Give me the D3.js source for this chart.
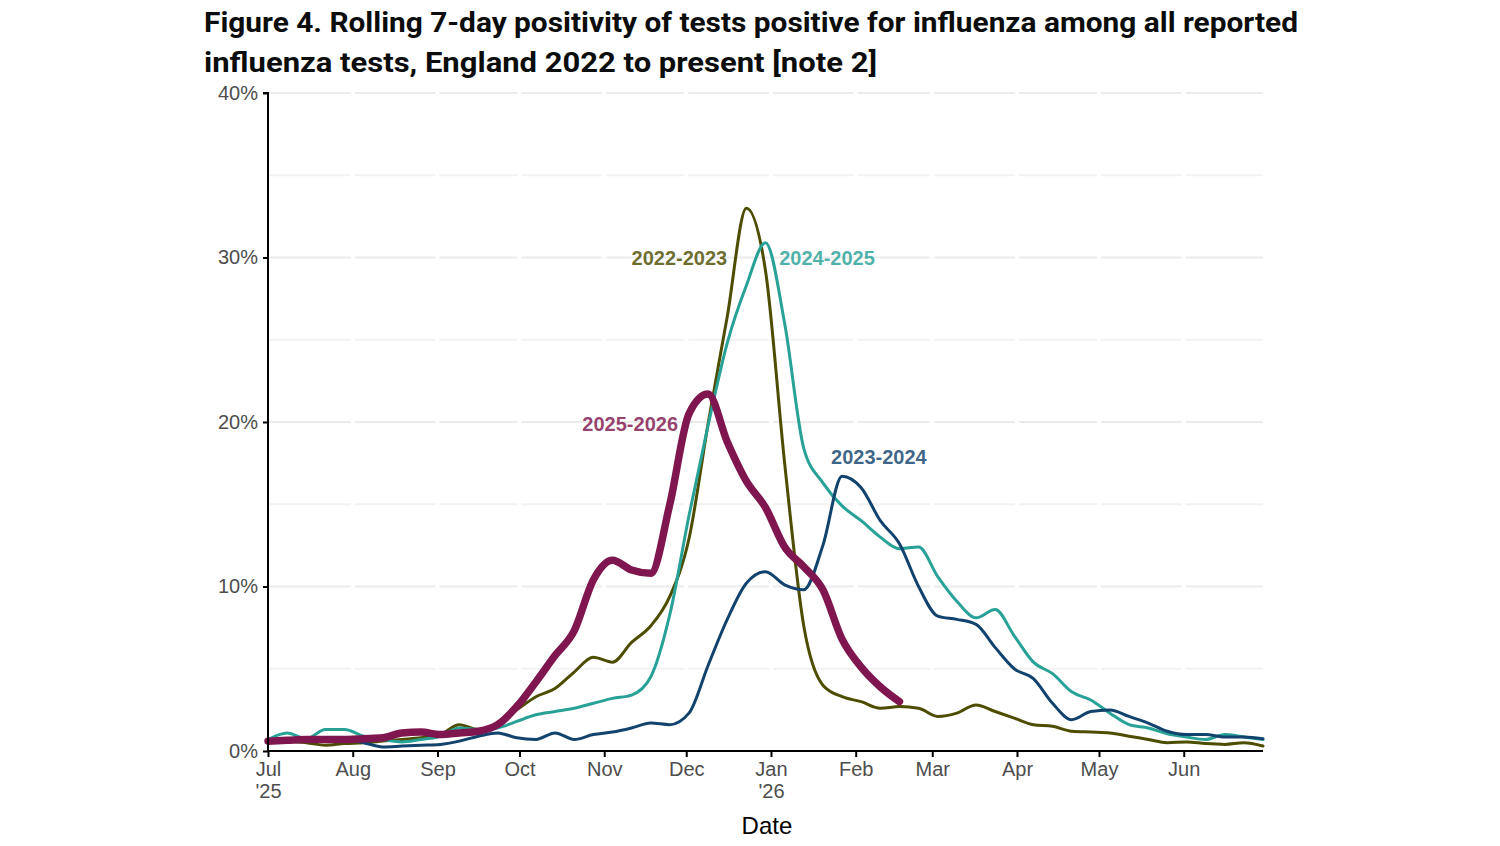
<!DOCTYPE html>
<html>
<head>
<meta charset="utf-8">
<script src="https://cdn.jsdelivr.net/npm/d3@7"></script>
<style>
  body { margin: 0; background: #fff; }
  svg { display: block; }
</style>
</head>
<body>
<script>
// weekly sample dates, aligned to a Jul 2025 - Jun 2026 season axis
const weekDates = [
  '2025-07-01','2025-07-08','2025-07-15','2025-07-22','2025-07-29',
  '2025-08-05','2025-08-12','2025-08-19','2025-08-26',
  '2025-09-02','2025-09-09','2025-09-16','2025-09-23','2025-09-30',
  '2025-10-07','2025-10-14','2025-10-21','2025-10-28',
  '2025-11-04','2025-11-11','2025-11-18','2025-11-25',
  '2025-12-02','2025-12-09','2025-12-16','2025-12-23','2025-12-30',
  '2026-01-06','2026-01-13','2026-01-20','2026-01-27',
  '2026-02-03','2026-02-10','2026-02-17','2026-02-24',
  '2026-03-03','2026-03-10','2026-03-17','2026-03-24','2026-03-31',
  '2026-04-07','2026-04-14','2026-04-21','2026-04-28',
  '2026-05-05','2026-05-12','2026-05-19','2026-05-26',
  '2026-06-02','2026-06-09','2026-06-16','2026-06-23','2026-06-30'
];

// positivity (%) per season
const season2223 = [0.5,0.6,0.5,0.35,0.45,0.5,0.6,0.7,0.8,1.0,1.6,1.3,1.7,2.5,3.3,3.8,4.8,5.7,5.4,6.6,
  7.6,9.4,12.9,19.9,26.4,33.0,29.2,17.5,7.6,4.0,3.3,3.0,2.6,2.7,2.6,2.1,2.3,2.8,2.4,2.0,
  1.6,1.5,1.2,1.15,1.1,0.9,0.7,0.5,0.55,0.45,0.4,0.5,0.3];
const season2324 = [0.6,0.65,0.7,0.7,0.7,0.5,0.25,0.3,0.35,0.4,0.6,0.9,1.1,0.8,0.7,1.1,0.7,1.0,1.15,1.4,
  1.7,1.6,2.3,5.2,8.0,10.2,10.9,10.1,9.8,12.5,16.7,16.0,14.0,12.6,10.0,8.2,8.0,7.7,6.3,5.0,
  4.4,2.9,1.9,2.4,2.5,2.1,1.7,1.2,1.0,1.0,0.85,0.85,0.75];
const season2425 = [0.7,1.1,0.75,1.3,1.3,0.9,0.7,0.55,0.7,0.9,1.4,1.3,1.4,1.8,2.2,2.4,2.6,2.9,3.2,3.4,
  4.5,8.3,14.3,19.8,24.8,28.3,30.9,26.0,18.4,16.3,14.9,14.0,13.0,12.3,12.4,10.6,9.1,8.1,8.6,7.0,
  5.4,4.7,3.6,3.1,2.3,1.6,1.4,1.05,0.85,0.7,1.0,0.85,0.7];
const season2526 = [0.6,0.65,0.7,0.7,0.7,0.75,0.8,1.1,1.15,1.0,1.1,1.2,1.6,2.7,4.2,5.8,7.3,10.4,11.6,11.0,
  10.8,15.0,20.5,21.7,18.8,16.4,14.8,12.4,11.2,9.8,6.8,5.1,3.9,3.0];

const seasonNames = ['2022-2023', '2023-2024', '2024-2025', '2025-2026'];
const seasonValues = [season2223, season2324, season2425, season2526];
const seasonColors = ['#4d4d00', '#12436d', '#28a197', '#801650'];
const seasonWidths = [3, 3, 3, 7.5];

// where each season's name sits: [date, value, anchor]
const labelSpots = [
  ['2025-12-16', 30, 'end'],
  ['2026-01-23', 17.9, 'start'],
  ['2026-01-04', 30, 'start'],
  ['2025-11-28', 19.9, 'end']
];

const yTicks = [0, 10, 20, 30, 40];
const yGrid = [0, 5, 10, 15, 20, 25, 30, 35, 40];
const monthTicks = ['2025-07-01','2025-08-01','2025-09-01','2025-10-01','2025-11-01','2025-12-01',
  '2026-01-01','2026-02-01','2026-03-01','2026-04-01','2026-05-01','2026-06-01'];
const yearLabels = { '2025-07-01': "'25", '2026-01-01': "'26" };

const titleLines = [
  'Figure 4. Rolling 7-day positivity of tests positive for influenza among all reported',
  'influenza tests, England 2022 to present [note 2]'
];

const W = 1500, H = 846;
const margin = { left: 268, right: 237, top: 93, bottom: 95 };
const parse = d3.timeParse('%Y-%m-%d');

const svg = d3.select('body').append('svg')
  .attr('width', W)
  .attr('height', H);

const x = d3.scaleTime()
  .domain([parse('2025-07-01'), parse('2026-06-30')])
  .range([margin.left, W - margin.right]);

const y = d3.scaleLinear()
  .domain([0, 40])
  .range([H - margin.bottom, margin.top]);

// title
svg.append('g').selectAll('text')
  .data(titleLines)
  .enter()
  .append('text')
  .attr('x', 204)
  .attr('y', (d, i) => 32 + i * 40)
  .attr('font-family', 'Roboto, "Noto Sans", sans-serif')
  .attr('font-weight', 700)
  .attr('font-size', '28px')
  .attr('fill', '#0b0c0c')
  .attr('textLength', (d, i) => i === 0 ? 1094 : 673)
  .attr('lengthAdjust', 'spacingAndGlyphs')
  .text(d => d);

// horizontal grid
svg.append('g').selectAll('line')
  .data(yGrid)
  .enter()
  .append('line')
  .attr('x1', x.range()[0])
  .attr('x2', x.range()[1])
  .attr('y1', d => y(d))
  .attr('y2', d => y(d))
  .attr('stroke', d => d % 10 === 0 ? '#ebebeb' : '#f2f2f2')
  .attr('stroke-width', 2);

// white breaks at month positions
svg.append('g').selectAll('line')
  .data(monthTicks.slice(1))
  .enter()
  .append('line')
  .attr('x1', d => x(parse(d)))
  .attr('x2', d => x(parse(d)))
  .attr('y1', y(40) - 2)
  .attr('y2', y(0) - 2)
  .attr('stroke', '#fff')
  .attr('stroke-width', 4);

// series lines
const line = d3.line()
  .defined(d => d[1] != null)
  .curve(d3.curveMonotoneX)
  .x(d => x(parse(d[0])))
  .y(d => y(d[1]));

const order = [0, 2, 1, 3];
svg.append('g').selectAll('path')
  .data(order)
  .enter()
  .append('path')
  .attr('d', i => line(seasonValues[i].map((v, j) => [weekDates[j], v])))
  .attr('fill', 'none')
  .attr('stroke', i => seasonColors[i])
  .attr('stroke-width', i => seasonWidths[i])
  .attr('stroke-linejoin', 'round')
  .attr('stroke-linecap', 'round');

// season labels
svg.append('g').selectAll('text')
  .data(labelSpots)
  .enter()
  .append('text')
  .attr('x', d => x(parse(d[0])))
  .attr('y', d => y(d[1]))
  .attr('dy', '0.35em')
  .attr('text-anchor', d => d[2])
  .attr('font-family', '"Liberation Sans", Arial, sans-serif')
  .attr('font-weight', 700)
  .attr('font-size', '20px')
  .attr('fill', (d, i) => seasonColors[i])
  .attr('fill-opacity', 0.82)
  .text((d, i) => seasonNames[i]);

// y axis
const yAxis = svg.append('g')
  .attr('transform', `translate(${margin.left},0)`)
  .call(d3.axisLeft(y).tickValues(yTicks).tickFormat(d => d + '%').tickSize(5).tickPadding(5));
yAxis.select('.domain').attr('stroke', '#000').attr('stroke-width', 2)
  .attr('d', `M-5,${y(40)}H0V${y(0)}`);
yAxis.selectAll('.tick line').attr('stroke', '#000').attr('stroke-width', 2);
yAxis.selectAll('.tick text')
  .attr('font-family', '"Liberation Sans", Arial, sans-serif')
  .attr('font-size', '20px')
  .attr('fill', '#4d4d4d');

// x axis
const xAxis = svg.append('g')
  .attr('transform', `translate(0,${y(0)})`)
  .call(d3.axisBottom(x).tickValues(monthTicks.map(parse)).tickFormat(d3.timeFormat('%b')).tickSize(6).tickPadding(5));
xAxis.select('.domain').attr('stroke', '#000').attr('stroke-width', 2)
  .attr('d', `M${x.range()[0]},0H${x.range()[1]}`);
xAxis.selectAll('.tick line').attr('stroke', '#000').attr('stroke-width', 2);
xAxis.selectAll('.tick text')
  .attr('font-family', '"Liberation Sans", Arial, sans-serif')
  .attr('font-size', '20px')
  .attr('fill', '#4d4d4d')
  .each(function(d) {
    const key = d3.timeFormat('%Y-%m-%d')(d);
    if (yearLabels[key]) {
      d3.select(this).append('tspan')
        .attr('x', 0)
        .attr('dy', '1.1em')
        .text(yearLabels[key]);
    }
  });

// x axis title
svg.append('text')
  .attr('x', x(parse('2026-01-01')) - 4)
  .attr('y', 834)
  .attr('text-anchor', 'middle')
  .attr('font-family', '"Liberation Sans", Arial, sans-serif')
  .attr('font-size', '24px')
  .attr('fill', '#000')
  .text('Date');
</script>
</body>
</html>
